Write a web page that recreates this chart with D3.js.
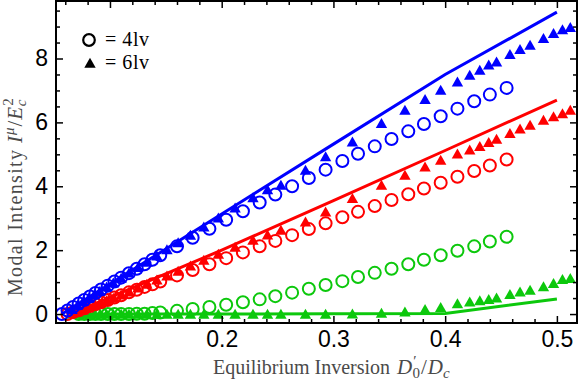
<!DOCTYPE html>
<html>
<head>
<meta charset="utf-8">
<script src="https://cdn.jsdelivr.net/npm/d3@7"></script>
<style>
  body { margin: 0; background: #fff; }
  svg { display: block; }
  .tick text { font-family: "Liberation Sans", Arial, sans-serif; font-size: 23px; fill: #000; }
  .tick line { stroke: #000; stroke-width: 1.5; }
</style>
</head>
<body>
<div id="chart"></div>
<script>
// 4-level model (circles), shared x values
var circX = [0.057, 0.062, 0.067, 0.072, 0.077, 0.082, 0.087, 0.092, 0.098, 0.104, 0.110, 0.117, 0.124, 0.131, 0.138, 0.145,
             0.160, 0.174, 0.189, 0.204, 0.219, 0.234, 0.248, 0.263, 0.278, 0.293, 0.308, 0.322, 0.337, 0.352, 0.367, 0.381,
             0.396, 0.411, 0.426, 0.440, 0.455];
var blueCirc = [0.00, 0.11, 0.22, 0.33, 0.44, 0.55, 0.66, 0.77, 0.89, 1.02, 1.14, 1.28, 1.42, 1.56, 1.70, 1.84,
                2.12, 2.39, 2.67, 2.95, 3.22, 3.49, 3.74, 4.00, 4.26, 4.52, 4.79, 5.02, 5.25, 5.48, 5.72, 5.95,
                6.19, 6.43, 6.66, 6.87, 7.08];
var redCirc = [null, 0.00, 0.06, 0.12, 0.18, 0.25, 0.31, 0.37, 0.44, 0.52, 0.59, 0.68, 0.76, 0.85, 0.93, 1.02,
               1.21, 1.38, 1.56, 1.75, 1.93, 2.12, 2.29, 2.47, 2.66, 2.84, 3.03, 3.20, 3.38, 3.57, 3.75, 3.93,
               4.11, 4.30, 4.48, 4.65, 4.84];
var greenCirc = [null, null, null, 0.00, 0.00, 0.00, 0.00, 0.00, 0.00, 0.00, 0.00, 0.00, 0.01, 0.01, 0.03, 0.05,
                 0.10, 0.16, 0.22, 0.29, 0.37, 0.46, 0.56, 0.67, 0.79, 0.91, 1.03, 1.16, 1.29, 1.42, 1.56, 1.70,
                 1.84, 1.98, 2.12, 2.27, 2.42];

// 6-level model (triangles)
var triX = [0.066, 0.071, 0.076, 0.081, 0.086, 0.091, 0.097, 0.103, 0.110, 0.117, 0.125, 0.133, 0.142, 0.151, 0.161, 0.172,
            0.184, 0.197, 0.212, 0.228, 0.241, 0.253, 0.275, 0.293, 0.317, 0.343, 0.364, 0.382, 0.396, 0.411, 0.422, 0.431,
            0.439, 0.446, 0.458, 0.467, 0.476, 0.488, 0.497, 0.505, 0.512];
var blueTri = [0.15, 0.28, 0.40, 0.50, 0.61, 0.72, 0.85, 0.98, 1.13, 1.29, 1.46, 1.63, 1.82, 2.02, 2.24, 2.47,
               2.73, 3.01, 3.33, 3.65, 3.90, 4.04, 4.51, 4.93, 5.39, 5.97, 6.39, 6.72, 7.01, 7.27, 7.48, 7.64,
               7.80, 7.90, 8.13, 8.29, 8.42, 8.63, 8.79, 8.91, 8.98];
var redTri = [0.02, 0.08, 0.14, 0.20, 0.27, 0.34, 0.42, 0.50, 0.60, 0.70, 0.82, 0.94, 1.07, 1.20, 1.35, 1.51,
              1.69, 1.88, 2.10, 2.32, 2.48, 2.63, 2.89, 3.20, 3.62, 4.04, 4.35, 4.61, 4.82, 5.02, 5.14, 5.25,
              5.38, 5.48, 5.66, 5.80, 5.92, 6.07, 6.18, 6.28, 6.39];
var greenTri = [0.00, 0.00, 0.00, 0.00, 0.00, 0.00, 0.00, 0.00, 0.00, 0.00, 0.00, 0.00, 0.00, 0.00, 0.00, 0.00,
                0.00, 0.00, 0.00, 0.00, 0.00, 0.00, 0.00, 0.00, 0.01, 0.03, 0.07, 0.15, 0.21, 0.33, 0.38, 0.42,
                0.46, 0.51, 0.62, 0.70, 0.75, 0.86, 0.96, 1.09, 1.12];

// theory curves
var blueLine = [[0.057, 0.00], [0.1, 0.94], [0.2, 3.13], [0.3, 5.32], [0.4, 7.50], [0.5, 9.45]];
var redLine = [[0.064, 0.00], [0.1, 0.52], [0.2, 2.00], [0.3, 3.55], [0.4, 5.12], [0.5, 6.70]];
var greenLine = [[0.08, 0.00], [0.2, 0.00], [0.3, 0.01], [0.4, 0.02], [0.5, 0.47]];

var xMajor = [0.1, 0.2, 0.3, 0.4, 0.5];
var xMinor = [0.06, 0.08, 0.12, 0.14, 0.16, 0.18, 0.22, 0.24, 0.26, 0.28, 0.32, 0.34, 0.36, 0.38, 0.42, 0.44, 0.46, 0.48];
var yMajor = [0, 2, 4, 6, 8];
var yMinor = [0.5, 1, 1.5, 2.5, 3, 3.5, 4.5, 5, 5.5, 6.5, 7, 7.5, 8.5, 9, 9.5];

var W = 581, H = 381;
var pL = 56, pR = 577, pT = 1, pB = 323;
var BLUE = "#0000ff", RED = "#ff0000", GREEN = "#0cc80c";
var SERIF = "'Liberation Serif', 'DejaVu Serif', serif";
var LABEL = "#4a4a4a";

var x = d3.scaleLinear().domain([0.0517, 0.518]).range([pL, pR]);
var y = d3.scaleLinear().domain([-0.28, 9.8]).range([pB, pT]);

var svg = d3.select("#chart").append("svg")
    .attr("width", W)
    .attr("height", H);

var plot = svg.append("g");

function triPath(cx, cy) {
  return "M" + cx + "," + (cy - 5.3) + "L" + (cx + 5.7) + "," + (cy + 4.7) + "L" + (cx - 5.7) + "," + (cy + 4.7) + "Z";
}

function drawCircles(vals, color) {
  var pts = circX.map(function(d, i) { return [d, vals[i]]; }).filter(function(d) { return d[1] != null; });
  plot.append("g").selectAll("circle")
      .data(pts)
    .enter().append("circle")
      .attr("cx", function(d) { return x(d[0]); })
      .attr("cy", function(d) { return y(d[1]); })
      .attr("r", 6)
      .attr("fill", "none")
      .attr("stroke", color)
      .attr("stroke-width", 2);
}

function drawTris(vals, color) {
  var pts = triX.map(function(d, i) { return [d, vals[i]]; });
  plot.append("g").selectAll("path")
      .data(pts)
    .enter().append("path")
      .attr("d", function(d) { return triPath(x(d[0]), y(d[1])); })
      .attr("fill", color);
}

var line = d3.line()
    .x(function(d) { return x(d[0]); })
    .y(function(d) { return y(d[1]); });

function drawLine(pts, color) {
  plot.append("path")
      .datum(pts)
      .attr("d", line)
      .attr("fill", "none")
      .attr("stroke", color)
      .attr("stroke-width", 3);
}

drawCircles(greenCirc, GREEN);
drawTris(greenTri, GREEN);
drawLine(greenLine, GREEN);
drawCircles(redCirc, RED);
drawTris(redTri, RED);
drawLine(redLine, RED);
drawCircles(blueCirc, BLUE);
drawTris(blueTri, BLUE);
drawLine(blueLine, BLUE);

// frame + inward ticks
var axes = svg.append("g");
axes.append("g").attr("transform", "translate(0," + pB + ")")
    .call(d3.axisBottom(x).tickValues(xMajor).tickSizeInner(-7).tickSizeOuter(0).tickPadding(8).tickFormat(d3.format(".1f")));
axes.append("g").attr("transform", "translate(0," + pB + ")")
    .call(d3.axisBottom(x).tickValues(xMinor).tickSizeInner(-4).tickSizeOuter(0).tickFormat(""));
axes.append("g").attr("transform", "translate(0," + pT + ")")
    .call(d3.axisTop(x).tickValues(xMajor).tickSizeInner(-7).tickSizeOuter(0).tickFormat(""));
axes.append("g").attr("transform", "translate(0," + pT + ")")
    .call(d3.axisTop(x).tickValues(xMinor).tickSizeInner(-4).tickSizeOuter(0).tickFormat(""));
axes.append("g").attr("transform", "translate(" + pL + ",0)")
    .call(d3.axisLeft(y).tickValues(yMajor).tickSizeInner(-7).tickSizeOuter(0).tickPadding(8));
axes.append("g").attr("transform", "translate(" + pL + ",0)")
    .call(d3.axisLeft(y).tickValues(yMinor).tickSizeInner(-4).tickSizeOuter(0).tickFormat(""));
axes.append("g").attr("transform", "translate(" + pR + ",0)")
    .call(d3.axisRight(y).tickValues(yMajor).tickSizeInner(-7).tickSizeOuter(0).tickFormat(""));
axes.append("g").attr("transform", "translate(" + pR + ",0)")
    .call(d3.axisRight(y).tickValues(yMinor).tickSizeInner(-4).tickSizeOuter(0).tickFormat(""));
axes.selectAll(".domain").remove();

svg.append("rect")
    .attr("x", pL).attr("y", pT)
    .attr("width", pR - pL).attr("height", pB - pT)
    .attr("fill", "none")
    .attr("stroke", "#000")
    .attr("stroke-width", 2);

// legend
var lg = svg.append("g").style("font-family", SERIF).style("font-size", "20px");
lg.append("circle").attr("cx", 89).attr("cy", 40).attr("r", 5.8)
    .attr("fill", "none").attr("stroke", "#000").attr("stroke-width", 2.2);
lg.append("path").attr("d", triPath(90, 63)).attr("fill", "#000");
lg.append("text").attr("x", 105).attr("y", 46).attr("textLength", 44).attr("lengthAdjust", "spacing").text("= 4lv");
lg.append("text").attr("x", 105).attr("y", 69).attr("textLength", 44).attr("lengthAdjust", "spacing").text("= 6lv");

// x axis title: words + math part
var xg = svg.append("g")
    .style("font-family", SERIF)
    .style("font-size", "20px")
    .attr("fill", LABEL);
xg.append("text").attr("x", 213).attr("y", 374)
    .attr("textLength", 177).attr("lengthAdjust", "spacing")
    .text("Equilibrium Inversion");
var xm = xg.append("text").attr("x", 397).attr("y", 374).style("font-size", "21px");
xm.append("tspan").style("font-style", "italic").text("D");
xm.append("tspan").attr("dx", 1).attr("dy", -8).style("font-size", "15px").text("′");
xm.append("tspan").attr("dx", -4).attr("dy", 12).style("font-size", "15px").text("0");
xm.append("tspan").attr("dx", 1).attr("dy", -4).text("/");
xm.append("tspan").attr("dx", 1).style("font-style", "italic").text("D");
xm.append("tspan").attr("dy", 4).style("font-size", "15px").style("font-style", "italic").text("c");

// y axis title
var yg = svg.append("g")
    .attr("transform", "translate(22,296) rotate(-90)")
    .style("font-family", SERIF)
    .style("font-size", "20px")
    .attr("fill", LABEL);
yg.append("text").attr("x", 0).attr("y", 0)
    .attr("textLength", 146).attr("lengthAdjust", "spacing")
    .text("Modal Intensity");
var ym = yg.append("text").attr("x", 153).attr("y", 0).style("font-size", "21px");
ym.append("tspan").style("font-style", "italic").text("I");
ym.append("tspan").attr("dx", 1).attr("dy", -8).style("font-size", "15px").style("font-style", "italic").text("μ");
ym.append("tspan").attr("dx", 1).attr("dy", 8).text("/");
ym.append("tspan").attr("dx", 1).style("font-style", "italic").text("E");
ym.append("tspan").attr("dx", 1).attr("dy", -9).style("font-size", "15px").text("2");
ym.append("tspan").attr("dx", -8).attr("dy", 13).style("font-size", "15px").style("font-style", "italic").text("c");
</script>
</body>
</html>
